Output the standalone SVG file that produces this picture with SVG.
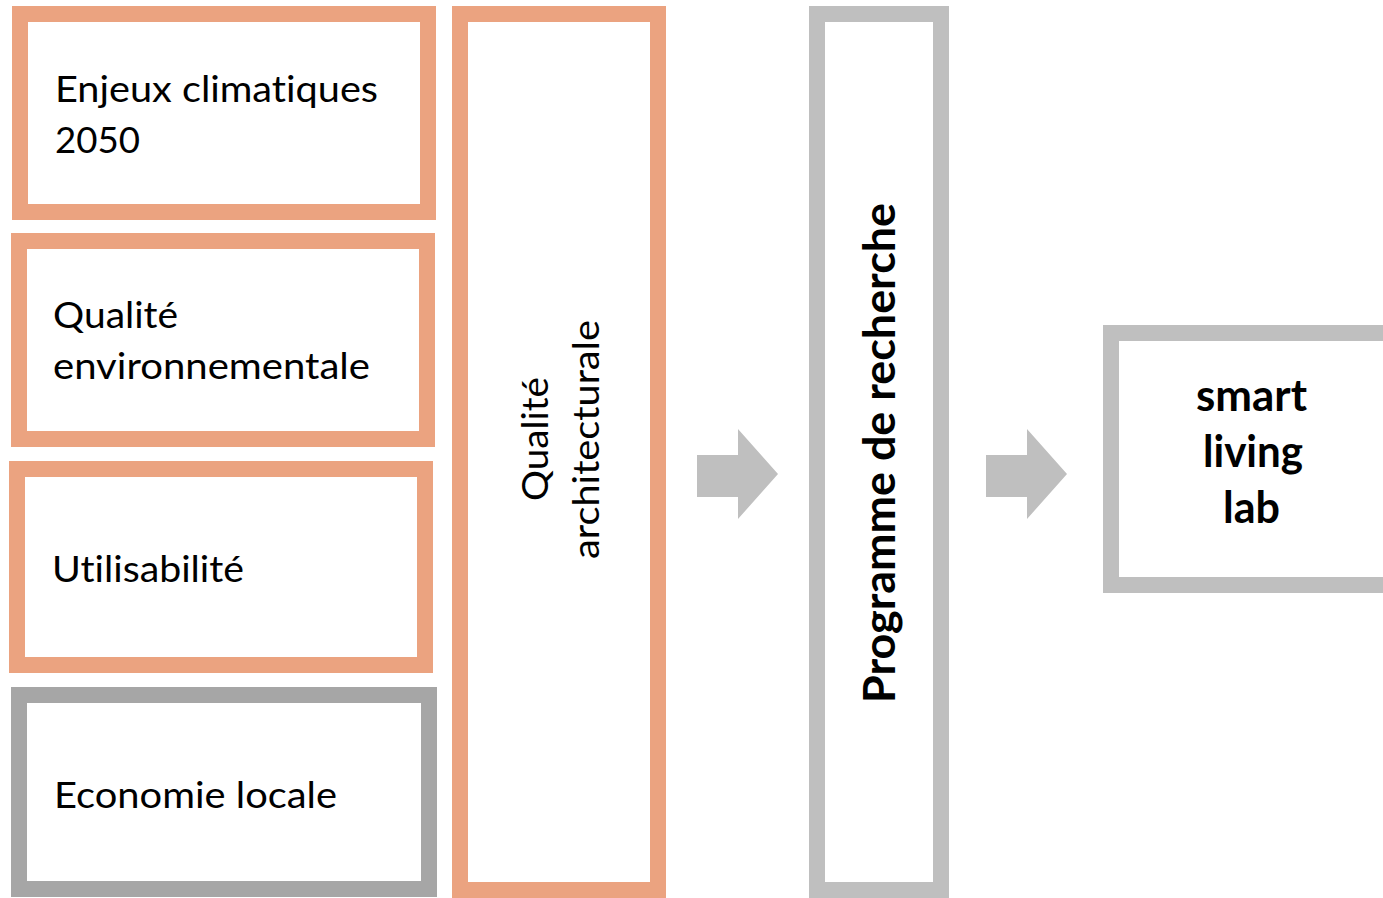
<svg xmlns="http://www.w3.org/2000/svg" width="1383" height="898" viewBox="0 0 1383 898">
<style>
.o{fill:#fff;stroke:#EBA380;stroke-width:16}
.g{fill:#fff;stroke:#BFBFBF;stroke-width:16}
.d{fill:#fff;stroke:#A6A6A6;stroke-width:16}
text{font-variant-ligatures:none;font-feature-settings:"liga" 0}
.t{font-family:Lato,"Open Sans","Liberation Sans",sans-serif;font-size:37px;fill:#000}
.b{font-family:Lato,"Open Sans","Liberation Sans",sans-serif;font-size:44px;font-weight:bold;fill:#000}
.arr{fill:#BFBFBF}
</style>
<rect width="1383" height="898" fill="#fff"/>
<g id="enjeux">
<rect class="o" x="20" y="14" width="408" height="198"/>
<text class="t" x="55" y="102" textLength="323" lengthAdjust="spacingAndGlyphs">Enjeux climatiques</text>
<text class="t" x="55" y="153" textLength="85" lengthAdjust="spacingAndGlyphs">2050</text>
</g>
<g id="qualite-env">
<rect class="o" x="19" y="241" width="408" height="198"/>
<text class="t" x="53" y="328" textLength="125" lengthAdjust="spacingAndGlyphs">Qualité</text>
<text class="t" x="53" y="379" textLength="317" lengthAdjust="spacingAndGlyphs">environnementale</text>
</g>
<g id="utilisabilite">
<rect class="o" x="17" y="469" width="408" height="196"/>
<text class="t" x="52" y="582" textLength="192" lengthAdjust="spacingAndGlyphs">Utilisabilité</text>
</g>
<g id="economie">
<rect class="d" x="19" y="695" width="410" height="194"/>
<text class="t" x="54" y="808" textLength="283" lengthAdjust="spacingAndGlyphs">Economie locale</text>
</g>
<g id="qualite-archi">
<rect class="o" x="460" y="14" width="198" height="876"/>
<text class="t" transform="translate(548,439) rotate(-90)" text-anchor="middle" textLength="124" lengthAdjust="spacingAndGlyphs">Qualité</text>
<text class="t" transform="translate(599,439.5) rotate(-90)" text-anchor="middle" textLength="239" lengthAdjust="spacingAndGlyphs">architecturale</text>
</g>
<g id="programme">
<rect class="g" x="817" y="14" width="124" height="876"/>
<text class="b" transform="translate(895,453) rotate(-90)" text-anchor="middle" textLength="500" lengthAdjust="spacingAndGlyphs">Programme de recherche</text>
</g>
<g id="smart">
<rect class="g" x="1111" y="333" width="300" height="252"/>
<text class="b" x="1251.5" y="411" text-anchor="middle" textLength="111" lengthAdjust="spacingAndGlyphs">smart</text>
<text class="b" x="1253" y="467" text-anchor="middle" textLength="100" lengthAdjust="spacingAndGlyphs">living</text>
<text class="b" x="1251.5" y="523" text-anchor="middle" textLength="57" lengthAdjust="spacingAndGlyphs">lab</text>
</g>
<g id="connectors">
<polygon class="arr" points="697,455 738,455 738,429 778,474 738,519 738,497 697,497"/>
<polygon class="arr" points="986,455 1027,455 1027,429 1067,474 1027,519 1027,497 986,497"/>
</g>
</svg>
